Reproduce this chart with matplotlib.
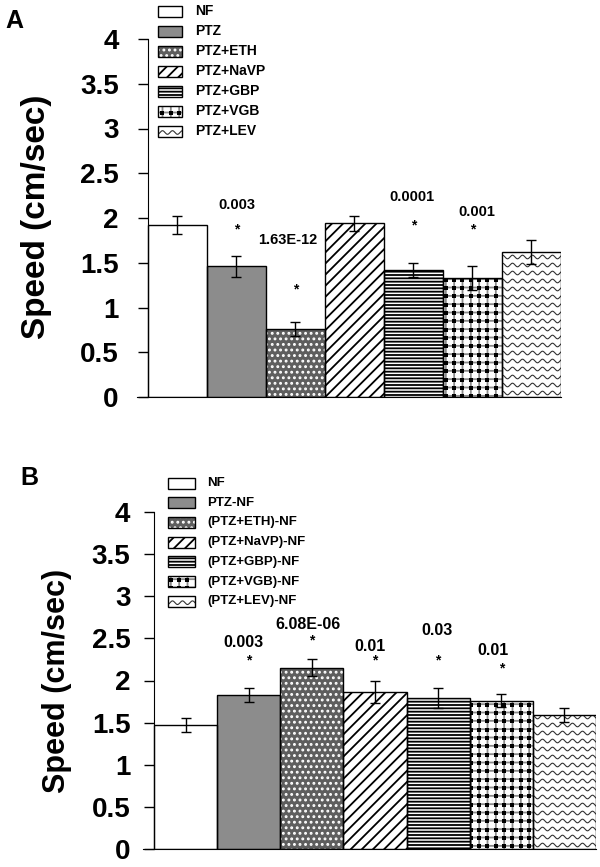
import numpy as np
import matplotlib.pyplot as plt
from matplotlib.patches import Rectangle

plt.rcParams['font.family'] = ['Liberation Sans', 'DejaVu Sans']
plt.rcParams['font.weight'] = 'bold'
plt.rcParams['hatch.linewidth'] = 1.3

# panel A data
groups_a = ['NF', 'PTZ', 'PTZ+ETH', 'PTZ+NaVP', 'PTZ+GBP', 'PTZ+VGB', 'PTZ+LEV']
speed_a = [1.92, 1.46, 0.76, 1.94, 1.42, 1.33, 1.62]
err_a = [0.10, 0.12, 0.08, 0.08, 0.08, 0.13, 0.13]
sig_bar_a = [1, 2, 4, 5]
sig_p_a = ['0.003', '1.63E-12', '0.0001', '0.001']
sig_text_x_a = [1.0, 1.87, 3.97, 5.08]
sig_text_y_a = [2.15, 1.75, 2.24, 2.07]
sig_star_y_a = [1.87, 1.20, 1.92, 1.87]

# panel B data
groups_b = ['NF', 'PTZ-NF', '(PTZ+ETH)-NF', '(PTZ+NaVP)-NF', '(PTZ+GBP)-NF',
            '(PTZ+VGB)-NF', '(PTZ+LEV)-NF']
speed_b = [1.47, 1.83, 2.15, 1.86, 1.79, 1.76, 1.59]
err_b = [0.08, 0.08, 0.10, 0.13, 0.12, 0.08, 0.08]
sig_bar_b = [1, 2, 3, 4, 5]
sig_p_b = ['0.003', '6.08E-06', '0.01', '0.03', '0.01']
sig_text_x_b = [0.91, 1.94, 2.92, 3.98, 4.87]
sig_text_y_b = [2.45, 2.66, 2.40, 2.59, 2.36]
sig_star_y_b = [2.24, 2.48, 2.24, 2.24, 2.14]

yticks = [0, 0.5, 1, 1.5, 2, 2.5, 3, 3.5, 4]
ytick_labels = ['0', '0.5', '1', '1.5', '2', '2.5', '3', '3.5', '4']

# fill style of each of the seven groups
styles = [
    dict(face='white', hatches=[], extra=None),
    dict(face='#8c8c8c', hatches=[], extra=None),
    dict(face='#5e5e5e', hatches=[('...', 'white')], extra=None),
    dict(face='white', hatches=[('///', 'black')], extra=None),
    dict(face='white', hatches=[('-----', 'black')], extra=None),
    dict(face='white', hatches=[('++', '#8a8a8a')], extra='squares'),
    dict(face='white', hatches=[], extra='waves'),
]


def add_waves(ax, patch, period=10, spacing=8, amp=1.8):
    bb = patch.get_window_extent()
    inv = ax.transData.inverted()
    xs = np.linspace(bb.x0, bb.x1, 200)
    y0 = bb.y0 + spacing / 2
    while y0 < bb.y1:
        ys = y0 + amp * np.sin(2 * np.pi * xs / period)
        pts = inv.transform(np.column_stack([xs, ys]))
        ln, = ax.plot(pts[:, 0], pts[:, 1], color='#333333', lw=0.8, zorder=2.2)
        ln.set_clip_path(patch)
        y0 += spacing


def add_squares(ax, patch, step=8.33):
    bb = patch.get_window_extent()
    inv = ax.transData.inverted()
    gx = np.arange(np.floor(bb.x0 / step) * step + step / 2, bb.x1, step)
    gy = np.arange(np.floor(bb.y0 / step) * step + step / 2, bb.y1, step)
    mx, my = np.meshgrid(gx, gy)
    pts = inv.transform(np.column_stack([mx.ravel(), my.ravel()]))
    sc = ax.scatter(pts[:, 0], pts[:, 1], marker='s', s=10, color='black', lw=0, zorder=2.2)
    sc.set_clip_path(patch)


def styled_rect(ax, xy, w, h, st, zorder=2):
    base = Rectangle(xy, w, h, facecolor=st['face'], edgecolor='none', lw=0, zorder=zorder)
    ax.add_patch(base)
    for h_, c in st['hatches']:
        ax.add_patch(Rectangle(xy, w, h, facecolor='none', edgecolor=c, hatch=h_,
                               lw=0, zorder=zorder + 0.1))
    if st['extra'] == 'waves':
        add_waves(ax, base)
    elif st['extra'] == 'squares':
        add_squares(ax, base)
    ax.add_patch(Rectangle(xy, w, h, fill=False, edgecolor='black', lw=1,
                           zorder=zorder + 0.3))


def draw_panel(ax, speed, err, sig_bar, sig_p, sig_tx, sig_ty, sig_sy, left, pad, fs_p):
    x = np.arange(len(speed))
    ax.set_xlim(left, len(speed) - 0.5)
    ax.set_ylim(0, 4)
    for i in range(len(speed)):
        styled_rect(ax, (x[i] - 0.5, 0), 1.0, speed[i], styles[i])
    ax.errorbar(x, speed, yerr=err, fmt='none', ecolor='black', elinewidth=1,
                capsize=3.5, capthick=1, zorder=5)
    for b, p, tx, ty, sy in zip(sig_bar, sig_p, sig_tx, sig_ty, sig_sy):
        ax.text(tx, ty, p, ha='center', va='center', fontsize=fs_p, fontweight='bold')
        ax.text(b, sy, '*', ha='center', va='center', fontsize=10, fontweight='bold')
    ax.spines['top'].set_visible(False)
    ax.spines['right'].set_visible(False)
    ax.spines['left'].set_position(('data', -0.5))
    ax.set_xticks([])
    ax.set_yticks(yticks)
    ax.set_yticklabels(ytick_labels)
    ax.tick_params(axis='y', direction='out', length=7, width=1, pad=pad, labelsize=20)
    for t in ax.get_yticklabels():
        t.set_fontweight('bold')


fig = plt.figure(figsize=[6, 8.67], dpi=100)

ax_a = fig.add_axes([137 / 600, 1 - 397 / 867, 424 / 600, 358 / 867])
draw_panel(ax_a, speed_a, err_a, sig_bar_a, sig_p_a, sig_text_x_a, sig_text_y_a,
           sig_star_y_a, -0.686, 14, 10.5)

ax_b = fig.add_axes([143 / 600, 1 - 849 / 867, 453 / 600, 337 / 867])
draw_panel(ax_b, speed_b, err_b, sig_bar_b, sig_p_b, sig_text_x_b, sig_text_y_b,
           sig_star_y_b, -0.675, 10, 11.5)

fig.text(37 / 600, 1 - 217 / 867, 'Speed (cm/sec)', rotation=90, ha='center', va='center',
         fontsize=24, fontweight='bold')
fig.text(57 / 600, 1 - 681 / 867, 'Speed (cm/sec)', rotation=90, ha='center', va='center',
         fontsize=22, fontweight='bold')
fig.text(14 / 600, 1 - 21 / 867, 'A', ha='center', va='center', fontsize=18, fontweight='bold')
fig.text(29 / 600, 1 - 478 / 867, 'B', ha='center', va='center', fontsize=18, fontweight='bold')

# legends drawn in pixel space on an overlay
lg = fig.add_axes([0, 0, 1, 1], zorder=10)
lg.set_xlim(0, 600)
lg.set_ylim(867, 0)
lg.axis('off')
for i, name in enumerate(groups_a):
    yc = 11 + 20 * i
    styled_rect(lg, (158, yc - 5.5), 24, 11, styles[i])
    lg.text(195, yc, name, ha='left', va='center', fontsize=10, fontweight='bold')
for i, name in enumerate(groups_b):
    yc = 483 + 19.7 * i
    styled_rect(lg, (168, yc - 5.5), 27, 11, styles[i])
    lg.text(207, yc, name, ha='left', va='center', fontsize=9.5, fontweight='bold')

fig.savefig('out.png', dpi=100)
